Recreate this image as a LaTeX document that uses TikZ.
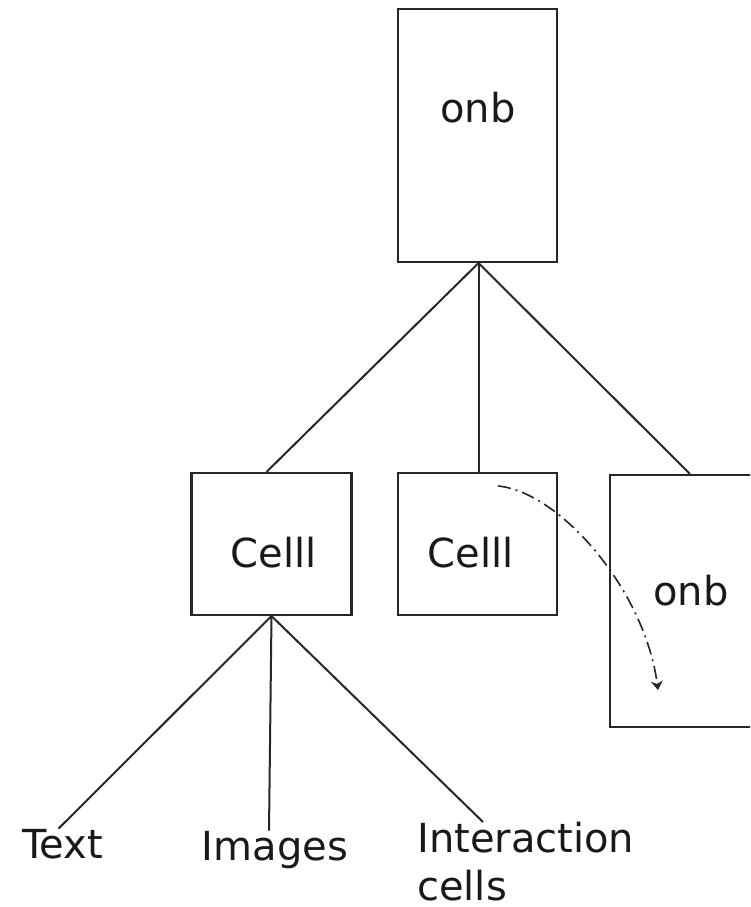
\documentclass[tikz,border=0pt]{standalone}
\usepackage{fontspec}
\setmainfont{DejaVu Sans}
\usetikzlibrary{arrows.meta}
\begin{document}
\begin{tikzpicture}[x=1pt,y=-1pt,
  box/.style={draw=black!85, line width=2.1pt, rectangle, inner sep=0pt},
  conn/.style={draw=black!85, line width=2pt},
  lbl/.style={inner sep=0pt, font=\fontsize{40}{51}\selectfont, text=black!90},
  flow/.style={draw=black!85, line width=1.6pt, dash pattern=on 13pt off 5pt on 2pt off 5pt, -{Stealth[length=9pt,width=12pt]}}]
\useasboundingbox (0,0) rectangle (750,907);
\clip (0,0) rectangle (750,907);
% boxes
\node[box, minimum width=159pt, minimum height=253pt] (top) at (477.5,135.5) {};
\node[box, minimum width=160pt, minimum height=142pt] (c1) at (271.5,544) {};
\node[box, minimum width=159pt, minimum height=142pt] (c2) at (477.5,544) {};
\node[box, minimum width=160pt, minimum height=252pt] (onb2) at (690,601) {};
% texts
\node[lbl, anchor=base] (t1) at (478,122) {onb};
\node[lbl, anchor=base] (t2) at (273.5,567) {Celll};
\node[lbl, anchor=base] (t3) at (470.5,567) {Celll};
\node[lbl, anchor=base] (t4) at (691,605) {onb};
\node[lbl, anchor=base] (txt) at (62.5,858) {Text};
\node[lbl, anchor=base] (img) at (275,860) {Images};
\node[lbl, anchor=north west, align=left, font=\fontsize{40}{48}\selectfont] (int) at (417,822) {Interaction\\cells};
% connectors
\draw[conn] ([xshift=1pt]top.south) -- ([xshift=-5pt]c1.north);
\draw[conn] ([xshift=1pt]top.south) -- ([xshift=1pt]c2.north);
\draw[conn] ([xshift=1pt]top.south) -- (onb2.north);
\draw[conn] (c1.south) -- ([xshift=-4pt]txt.north);
\draw[conn] (c1.south) -- ([xshift=-6pt]img.north);
\draw[conn] (c1.south) -- ([xshift=66pt]int.north west);
% dashed flow arrow
\coordinate (fs) at (498,486);
\coordinate (fe) at (658,690);
\draw[flow] (fs) .. controls (560,492) and (645,590) .. (fe);
\end{tikzpicture}
\end{document}
